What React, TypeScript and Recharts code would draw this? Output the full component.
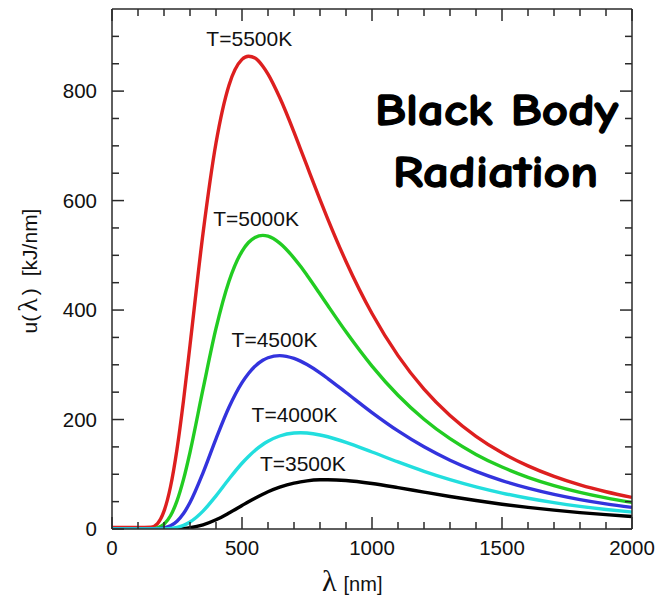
import React from 'react';
import { LineChart, Line, XAxis, YAxis, ReferenceDot } from 'recharts';

// Wavelength samples (nm)
const WAVELENGTHS = [0, 100, 150, 175, 200, 225, 250, 275, 300, 350, 400, 450, 500, 525, 550, 580, 600, 645, 700, 725, 750, 800, 830, 900, 1000, 1100, 1200, 1300, 1400, 1500, 1600, 1700, 1800, 1900, 2000];

// Spectral energy density u(λ) in kJ/nm
const T5500 = [3, 3, 3.5, 10, 32.6, 77.2, 145.9, 234.6, 335.5, 539.9, 705.2, 810.9, 857.9, 863.8, 860.4, 845.5, 831.0, 788.2, 725.0, 694.1, 663.2, 601.9, 566.3, 488.8, 393.7, 316.8, 255.7, 207.5, 169.4, 139.3, 115.3, 96.1, 80.6, 68.1, 57.8];
const T5000 = [0, 0, 0.3, 2.2, 8.8, 24.2, 51.3, 90.6, 140.2, 255.4, 366.4, 452.6, 507.4, 523.4, 532.7, 536.4, 534.9, 522.3, 495.0, 479.9, 463.6, 429.3, 408.3, 360.3, 297.7, 244.4, 200.6, 165.0, 136.3, 113.2, 94.5, 79.3, 66.9, 56.8, 48.5];
const T4500 = [0, 0, 0, 0.35, 1.8, 5.8, 14.3, 28.3, 48.3, 102.5, 164.7, 222.3, 267.3, 284.2, 297.2, 308.2, 312.9, 316.8, 311.6, 306.7, 300.4, 285.2, 274.9, 249.4, 212.7, 179.2, 150.2, 125.7, 105.3, 88.5, 74.7, 63.3, 53.8, 46.0, 39.5];
const T4000 = [0, 0, 0, 0, 0.24, 1.0, 2.9, 6.6, 12.8, 32.7, 60.6, 91.4, 120.1, 132.5, 143.5, 154.4, 160.3, 169.9, 175.3, 175.8, 175.3, 171.8, 168.5, 158.3, 140.7, 122.5, 105.4, 90.2, 77.0, 65.7, 56.2, 48.2, 41.4, 35.7, 30.9];
const T3500 = [0, 0, 0, 0, 0, 0.1, 0.37, 1.0, 2.3, 7.5, 16.8, 29.2, 42.9, 49.8, 56.3, 63.6, 68.0, 76.4, 83.9, 86.2, 88.0, 89.9, 90.1, 88.7, 83.2, 75.6, 67.4, 59.4, 52.0, 45.3, 39.5, 34.4, 30.0, 26.2, 22.9];

// Series labels and their anchor positions (data coordinates)
const SERIES_LABELS = ['T=5500K', 'T=5000K', 'T=4500K', 'T=4000K', 'T=3500K'];
const LABEL_X = [528, 554, 625, 702, 734];
const LABEL_Y = [896, 568, 347, 209, 120];

// Axis ticks
const X_TICKS = [0, 100, 200, 300, 400, 500, 600, 700, 800, 900, 1000, 1100, 1200, 1300, 1400, 1500, 1600, 1700, 1800, 1900, 2000];
const X_MAJOR_STEP = 500;
const Y_TICKS = [0, 50, 100, 150, 200, 250, 300, 350, 400, 450, 500, 550, 600, 650, 700, 750, 800, 850, 900];
const Y_MAJOR_STEP = 200;

const data = WAVELENGTHS.map((w, i) => ({
  lambda: w,
  t5500: T5500[i],
  t5000: T5000[i],
  t4500: T4500[i],
  t4000: T4000[i],
  t3500: T3500[i],
}));

const AXIS = '#2a2a2a';
const FONT = '"Liberation Sans", Arial, Helvetica, sans-serif';
const TITLE_FONT = '"Comic Sans MS", "Comic Neue", Lato, sans-serif';
const MAJOR = 12;
const MINOR = 7;

const BottomTick = (props: any) => {
  const { x, y, payload } = props;
  const v = payload.value;
  const major = v % X_MAJOR_STEP === 0;
  return (
    <g>
      <line x1={x} x2={x} y1={y} y2={y - (major ? MAJOR : MINOR)} stroke={AXIS} strokeWidth={1.5} />
      {major && (
        <text x={x} y={y + 26} textAnchor="middle" fontFamily={FONT} fontSize={20.5} fill="#111">
          {v}
        </text>
      )}
    </g>
  );
};

const TopTick = (props: any) => {
  const { x, y, payload } = props;
  const major = payload.value % X_MAJOR_STEP === 0;
  return <line x1={x} x2={x} y1={y} y2={y + (major ? MAJOR : MINOR)} stroke={AXIS} strokeWidth={1.5} />;
};

const LeftTick = (props: any) => {
  const { x, y, payload } = props;
  const v = payload.value;
  const major = v % Y_MAJOR_STEP === 0;
  return (
    <g>
      <line x1={x} x2={x + (major ? MAJOR : MINOR)} y1={y} y2={y} stroke={AXIS} strokeWidth={1.5} />
      {major && (
        <text x={x - 15} y={y} dy="0.36em" textAnchor="end" fontFamily={FONT} fontSize={20.5} fill="#111">
          {v}
        </text>
      )}
    </g>
  );
};

const RightTick = (props: any) => {
  const { x, y, payload } = props;
  const major = payload.value % Y_MAJOR_STEP === 0;
  return <line x1={x} x2={x - (major ? MAJOR : MINOR)} y1={y} y2={y} stroke={AXIS} strokeWidth={1.5} />;
};

// The black curve is bound to the mirrored (top/right) axes, which share the same domains.
const SERIES = [
  { key: 't3500', color: '#000000', xId: 'top', yId: 'right' },
  { key: 't5500', color: '#dd1f1f', xId: 'bottom', yId: 'left' },
  { key: 't5000', color: '#22cc22', xId: 'bottom', yId: 'left' },
  { key: 't4500', color: '#3333dd', xId: 'bottom', yId: 'left' },
  { key: 't4000', color: '#22dede', xId: 'bottom', yId: 'left' },
];

export default function App() {
  return (
    <LineChart width={650} height={588} data={data} margin={{ top: 0, right: 25, bottom: 17, left: 4 }}>
      <XAxis
        xAxisId="top"
        orientation="top"
        type="number"
        dataKey="lambda"
        domain={[0, 2000]}
        allowDataOverflow
        ticks={X_TICKS}
        interval={0}
        height={1}
        tickSize={0}
        tickMargin={0}
        tickLine={false}
        axisLine={{ stroke: AXIS, strokeWidth: 1.5 }}
        tick={<TopTick />}
      />
      <XAxis
        xAxisId="bottom"
        orientation="bottom"
        type="number"
        dataKey="lambda"
        domain={[0, 2000]}
        allowDataOverflow
        ticks={X_TICKS}
        interval={0}
        height={50}
        tickSize={0}
        tickMargin={0}
        tickLine={false}
        axisLine={{ stroke: AXIS, strokeWidth: 1.5 }}
        tick={<BottomTick />}
      />
      <YAxis
        yAxisId="left"
        orientation="left"
        type="number"
        domain={[0, 950]}
        allowDataOverflow
        ticks={Y_TICKS}
        interval={0}
        width={100}
        tickSize={0}
        tickMargin={0}
        tickLine={false}
        axisLine={{ stroke: AXIS, strokeWidth: 1.5 }}
        tick={<LeftTick />}
      />
      <YAxis
        yAxisId="right"
        orientation="right"
        type="number"
        domain={[0, 950]}
        allowDataOverflow
        ticks={Y_TICKS}
        interval={0}
        width={1}
        tickSize={0}
        tickMargin={0}
        tickLine={false}
        axisLine={{ stroke: AXIS, strokeWidth: 1.5 }}
        tick={<RightTick />}
      />
      {SERIES.map((s) => (
        <Line
          key={s.key}
          xAxisId={s.xId}
          yAxisId={s.yId}
          type="monotone"
          dataKey={s.key}
          stroke={s.color}
          strokeWidth={3.4}
          dot={false}
          activeDot={false}
          isAnimationActive={false}
        />
      ))}
      {SERIES_LABELS.map((lab, i) => (
        <ReferenceDot
          key={lab}
          xAxisId="bottom"
          yAxisId="left"
          x={LABEL_X[i]}
          y={LABEL_Y[i]}
          r={0}
          fill="none"
          stroke="none"
          label={{ value: lab, position: 'center', fontFamily: FONT, fontSize: 21, fill: '#111' }}
        />
      ))}
      <text x={314} y={583} fontFamily={FONT} fill="#111">
        <tspan fontFamily='"Liberation Serif", "DejaVu Serif", serif' fontSize={30}>λ</tspan>
        <tspan fontSize={20} dx={7}>[nm]</tspan>
      </text>
      <text
        x={29}
        y={263}
        transform="rotate(-90, 29, 263)"
        textAnchor="middle"
        fontFamily={FONT}
        fontSize={21}
        fill="#111"
        style={{ whiteSpace: 'pre' }}
      >
        <tspan>u(</tspan>
        <tspan fontFamily='"Liberation Serif", "DejaVu Serif", serif' fontSize={28} dx={3}>λ</tspan>
        <tspan dx={3}>)</tspan>
        <tspan dx={12}>[kJ/nm]</tspan>
      </text>
      <text
        x={367}
        y={117}
        textLength={243}
        lengthAdjust="spacingAndGlyphs"
        fontFamily={TITLE_FONT}
        fontWeight="bold"
        fontSize={44}
        fill="#000"
        stroke="#000"
        strokeWidth={1.3}
      >
        Black Body
      </text>
      <text
        x={385}
        y={179}
        textLength={205}
        lengthAdjust="spacingAndGlyphs"
        fontFamily={TITLE_FONT}
        fontWeight="bold"
        fontSize={44}
        fill="#000"
        stroke="#000"
        strokeWidth={1.3}
      >
        Radiation
      </text>
    </LineChart>
  );
}
